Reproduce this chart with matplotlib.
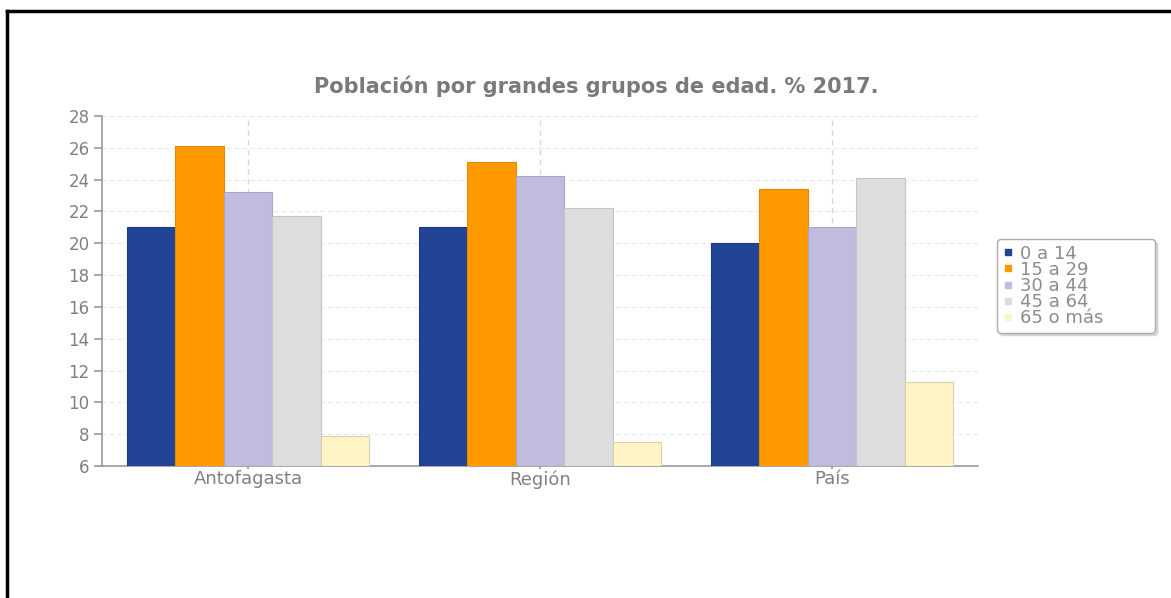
import numpy as np
from matplotlib import pyplot as plt
from matplotlib.lines import Line2D

# datos
categorias = ["Antofagasta", "Región", "País"]
grupos = ["0 a 14", "15 a 29", "30 a 44", "45 a 64", "65 o más"]
edad_0_14 = [21.0, 21.0, 20.0]
edad_15_29 = [26.1, 25.1, 23.4]
edad_30_44 = [23.2, 24.2, 21.0]
edad_45_64 = [21.7, 22.2, 24.1]
edad_65_mas = [7.9, 7.5, 11.3]
y_ticks = list(range(6, 29, 2))

series = [edad_0_14, edad_15_29, edad_30_44, edad_45_64, edad_65_mas]
colores = ["#214497", "#FF9900", "#C0BCDD", "#DDDDDD", "#FFF4C6"]
bordes = ["#1a3a85", "#e08a00", "#a9a5c8", "#c4c4c4", "#d9d2a8"]

fig = plt.figure(figsize=(11.71, 5.98), dpi=100)
ax = fig.add_axes([102 / 1171, 1 - 466 / 598, 876 / 1171, 350 / 598])

x = np.arange(len(categorias))
ancho = 0.166
for i, (vals, c, b) in enumerate(zip(series, colores, bordes)):
    ax.bar(x + (i - 2) * ancho, [v - 6 for v in vals], ancho, bottom=6,
           color=c, edgecolor=b, linewidth=0.8, label=grupos[i], zorder=3)

ax.set_xlim(-0.5, 2.5)
ax.set_ylim(6, 28)
ax.set_yticks(y_ticks)
ax.set_xticks(x)
ax.set_xticklabels(categorias)

# rejilla punteada
for t in y_ticks[1:]:
    ax.axhline(t, color="#e6e6e6", linestyle=(0, (4, 3)), linewidth=0.8, zorder=1)
for xi in x:
    ax.axvline(xi, color="#d8d8d8", linestyle=(0, (4, 3)), linewidth=1.0, zorder=1)

for lado in ["top", "right"]:
    ax.spines[lado].set_visible(False)
ax.spines["left"].set_color("#999999")
ax.spines["bottom"].set_color("#999999")
ax.spines["left"].set_linewidth(1.2)
ax.spines["bottom"].set_linewidth(1.2)
ax.tick_params(axis="y", colors="#999999", labelcolor="#808080", labelsize=12, length=6,
               width=1.2, pad=3)
ax.tick_params(axis="x", colors="#999999", labelcolor="#808080", labelsize=13, length=4,
               width=1.2, direction="inout", pad=1)

fig.text(0.509, 1 - 86 / 598, "Población por grandes grupos de edad. % 2017.",
         ha="center", va="center", fontsize=15, fontweight="bold", color="#7a7a7a")

handles = [Line2D([], [], marker="s", linestyle="none", markersize=5,
                  markerfacecolor=c, markeredgecolor=c) for c in colores]
leg = fig.legend(handles, grupos, loc="center", mode="expand",
                 bbox_to_anchor=(997 / 1171, 1 - 329 / 598, 158 / 1171, 86 / 598),
                 frameon=True, fancybox=True, shadow={"color": "#d0d0d0", "alpha": 0.8},
                 fontsize=13, handlelength=0.6, handletextpad=0.4, labelspacing=-0.1,
                 borderpad=0.3, borderaxespad=0, labelcolor="#8c8c8c")
leg.get_frame().set_edgecolor("#aaaaaa")

# marco negro del recuadro
fig.add_artist(Line2D([7 / 1171, 7 / 1171], [0, 1 - 11 / 598], color="black",
                      linewidth=2.5, transform=fig.transFigure))
fig.add_artist(Line2D([7 / 1171, 1], [1 - 11 / 598, 1 - 11 / 598], color="black",
                      linewidth=2.5, transform=fig.transFigure))

fig.savefig("out.png", dpi=100)
